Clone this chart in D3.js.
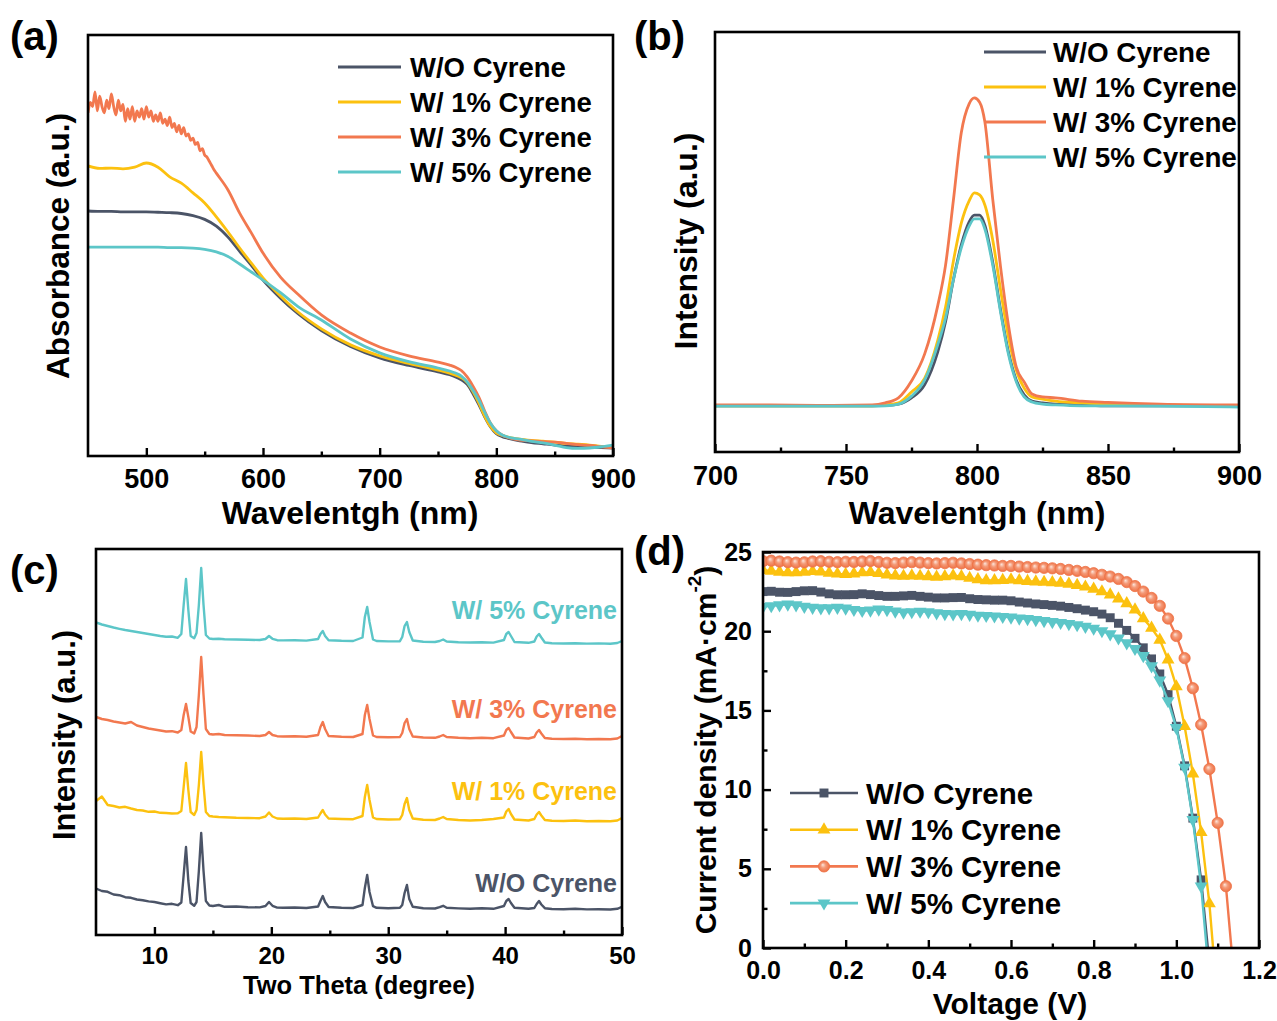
<!DOCTYPE html>
<html><head><meta charset="utf-8">
<script src="https://cdn.jsdelivr.net/npm/d3@7"></script>
<style>
body{margin:0;background:#fff}
svg{display:block;background:#fff}
text{font-family:"Liberation Sans",Arial,Helvetica,sans-serif;font-weight:bold}
</style></head>
<body><svg id="fig" width="1277" height="1021"></svg>
<script>
// ---------------- DATA ----------------
const seriesNames = ["W/O Cyrene", "W/ 1% Cyrene", "W/ 3% Cyrene", "W/ 5% Cyrene"];

// (a) UV-vis absorbance (a.u.)
const absWl = [450,460,470,480,490,500,510,520,530,540,550,560,570,580,590,600,615,630,650,675,700,725,750,760,765,770,775,780,785,790,795,800,805,810,820,830,840,850,860,870,880,890,900];
const absWO = [58.2,58.1,58.1,58.0,58.0,58.0,57.9,57.8,57.6,57.1,56.2,54.6,52.0,48.6,45.3,41.8,37.5,33.8,29.8,26.0,23.3,21.5,20.0,19.3,18.8,18.1,17.0,14.8,12.2,9.3,6.9,5.3,4.6,4.2,3.6,3.2,2.9,2.6,2.4,2.2,2.1,2.0,1.9];
const abs1 = [68.9,68.3,68.4,68.2,68.6,69.6,68.6,66.3,64.8,62.5,60.1,56.8,53.2,49.4,45.8,42.3,38.0,34.2,30.2,26.4,23.8,22.0,20.4,19.7,19.2,18.6,17.5,15.3,12.6,9.5,7.0,5.5,4.9,4.5,4.0,3.7,3.5,3.3,3.0,2.8,2.6,2.3,2.1];
const abs5 = [49.6,49.6,49.6,49.6,49.6,49.6,49.6,49.5,49.5,49.4,49.1,48.5,47.4,45.6,43.7,41.8,38.8,35.5,32.3,27.8,24.5,22.4,20.9,20.2,19.7,19.0,17.6,15.6,13.3,10.4,7.8,6.0,5.0,4.5,4.0,3.5,3.1,2.6,2.0,1.8,1.9,2.2,2.6];
const absWl3 = [450,452,454,456,458,460,462,464,466,468,470,472,474,476,478,480,482,484,486,488,490,492,494,496,498,500,502,504,506,508,510,512,514,516,518,520,522,524,526,528,530,532,534,536,538,540,542,544,546,548,550,552,554,556,558,560,570,580,590,600,615,630,650,675,700,725,750,760,765,770,775,780,785,790,795,800,805,810,820,830,840,850,860,870,880,890,900];
const abs3 = [81.5,84.0,83.0,86.5,82.0,85.5,83.0,81.5,84.5,82.5,86.0,83.0,81.0,84.5,82.0,83.5,79.5,82.5,80.0,83.0,79.5,82.0,80.5,82.5,80.0,83.0,80.5,82.0,79.5,81.0,79.5,81.5,79.0,80.0,78.5,80.5,78.0,79.0,77.0,78.5,76.5,78.0,76.0,76.5,75.0,75.5,74.0,74.5,72.5,73.0,71.5,71.0,70.0,69.0,68.0,67.2,63.2,57.7,53.0,48.2,42.5,38.4,33.5,29.2,25.9,23.8,22.3,21.6,21.1,20.3,18.8,16.6,14.0,10.7,7.8,6.0,5.0,4.4,3.8,3.6,3.4,3.3,3.0,2.7,2.5,2.2,1.9];

// (b) PL intensity (a.u.)
const plWl = [700,720,740,760,765,770,775,780,785,788,791,794,797,799,801,803,806,809,812,815,818,821,825,830,840,850,870,900];
const plWO = [11.0,11.0,11.0,11.0,11.1,11.4,12.9,16.0,23.8,31.0,41.0,49.3,54.8,56.4,56.4,54.0,45.2,33.8,23.8,17.1,13.6,12.1,11.7,11.4,11.2,11.0,11.0,11.0];
const pl1 = [11.0,11.0,11.0,11.0,11.2,11.7,14.3,17.5,26.5,34.5,45.5,54.5,59.8,61.7,61.2,58.8,50.5,38.6,27.4,19.5,15.2,13.1,12.6,12.1,11.7,11.4,11.2,11.0];
const pl3 = [11.2,11.2,11.1,11.2,11.7,12.9,16.9,23.3,34.8,44.5,60.0,76.0,82.9,84.3,83.3,78.6,60.2,44.0,30.2,20.2,16.7,13.8,13.1,12.9,12.1,11.8,11.4,11.2];
const pl5 = [10.9,10.9,10.9,10.9,11.0,11.4,13.3,17.1,25.5,31.9,41.0,48.6,53.8,55.5,55.5,53.1,44.5,33.3,23.3,16.7,13.1,11.9,11.4,11.2,11.0,11.0,10.9,10.7];

// (c) XRD (stacked intensity, a.u.)
const xrdTheta = [5,5.5,6,6.5,7,7.5,8,8.5,9,9.5,10,10.5,11,11.5,12,12.3,12.5,12.7,12.9,13.1,13.4,13.6,13.8,14.0,14.2,14.4,14.7,15,15.5,16,17,18,19,19.5,19.8,20.1,20.5,21,22,23,24.0,24.2,24.4,24.6,24.9,26,27,27.8,28.0,28.2,28.4,28.7,29,30,31,31.2,31.4,31.6,31.8,32.1,33,34,34.4,34.7,35.0,36,37,38,39,39.9,40.1,40.3,40.5,40.8,42,42.5,42.7,42.9,43.1,43.4,44,45,46,47,48,49,49.6,50];
const xrdWO = [465,440,432,405,398,378,372,355,348,336,330,318,306,312,298,325,600,880,540,320,292,330,640,1020,640,340,295,290,300,282,285,278,276,290,330,292,274,272,275,270,285,340,390,330,280,272,270,300,470,600,430,288,272,268,272,300,420,500,360,282,268,265,278,292,272,266,262,267,262,290,340,360,320,272,262,270,310,340,305,268,260,258,262,256,258,255,262,282];
const xrd1 = [1340,1385,1300,1290,1275,1282,1265,1250,1245,1232,1235,1222,1220,1215,1218,1240,1480,1720,1450,1230,1200,1250,1500,1830,1500,1230,1190,1185,1180,1178,1172,1170,1168,1185,1225,1185,1165,1163,1165,1160,1175,1215,1250,1205,1165,1160,1158,1190,1380,1500,1350,1175,1160,1155,1158,1200,1310,1370,1250,1165,1152,1150,1165,1180,1160,1150,1145,1150,1160,1175,1235,1260,1210,1155,1145,1160,1205,1230,1195,1150,1142,1140,1145,1138,1140,1137,1145,1170];
const xrd3 = [2180,2160,2150,2135,2125,2115,2130,2095,2080,2065,2055,2045,2035,2038,2025,2050,2200,2310,2180,2035,2015,2080,2400,2780,2400,2060,2010,2005,2010,2000,1998,1995,1990,2000,2030,2000,1988,1985,1988,1982,2000,2080,2130,2060,1990,1982,1980,2010,2200,2300,2160,1995,1980,1978,1980,2020,2120,2160,2060,1985,1975,1972,1985,2000,1980,1972,1968,1972,1968,1995,2050,2070,2030,1975,1965,1980,2025,2050,2015,1970,1962,1960,1962,1958,1960,1957,1965,1990];
const xrd5 = [3125,3105,3090,3075,3062,3050,3040,3030,3020,3010,3000,2990,2982,2985,2972,3010,3300,3560,3250,2990,2968,3020,3300,3670,3300,3000,2965,2960,2962,2958,2955,2952,2950,2960,2990,2962,2948,2946,2948,2944,2960,3010,3040,2990,2948,2942,2940,2975,3180,3280,3130,2955,2940,2936,2938,2980,3090,3130,3030,2945,2932,2930,2940,2955,2935,2928,2925,2928,2924,2950,3010,3030,2990,2930,2922,2935,2985,3010,2975,2925,2918,2915,2918,2914,2916,2913,2920,2940];

// (d) J-V curves
const voltage = [0,0.02,0.04,0.06,0.08,0.1,0.12,0.14,0.16,0.18,0.2,0.22,0.24,0.26,0.28,0.3,0.32,0.34,0.36,0.38,0.4,0.42,0.44,0.46,0.48,0.5,0.52,0.54,0.56,0.58,0.6,0.62,0.64,0.66,0.68,0.7,0.72,0.74,0.76,0.78,0.8,0.82,0.84,0.86,0.88,0.9,0.92,0.94,0.96,0.98,1.0,1.02,1.04,1.06,1.08,1.1,1.12,1.14];
const jWO = [22.50,22.52,22.46,22.45,22.50,22.55,22.56,22.47,22.36,22.30,22.30,22.31,22.36,22.31,22.25,22.20,22.20,22.23,22.26,22.20,22.15,22.10,22.10,22.12,22.13,22.05,22.00,21.98,21.96,21.96,21.92,21.84,21.78,21.72,21.68,21.63,21.58,21.50,21.42,21.33,21.23,21.08,20.85,20.50,20.05,19.55,18.95,18.25,17.30,16.00,14.00,11.50,8.20,4.30,-1.00];
const j1 = [23.85,23.80,23.74,23.70,23.70,23.73,23.78,23.75,23.68,23.62,23.60,23.63,23.70,23.72,23.65,23.56,23.50,23.48,23.50,23.48,23.45,23.42,23.45,23.50,23.45,23.35,23.26,23.20,23.20,23.22,23.25,23.20,23.15,23.12,23.10,23.08,23.04,22.98,22.90,22.80,22.66,22.50,22.30,22.05,21.75,21.35,20.80,20.20,19.45,18.20,16.50,14.00,11.00,7.30,2.80,-3.50];
const j3 = [24.42,24.45,24.40,24.36,24.33,24.35,24.40,24.42,24.38,24.36,24.38,24.37,24.40,24.43,24.37,24.32,24.30,24.33,24.36,24.33,24.30,24.28,24.30,24.32,24.28,24.24,24.20,24.17,24.15,24.12,24.12,24.08,24.05,24.02,24.00,23.97,23.93,23.87,23.81,23.74,23.66,23.56,23.45,23.30,23.10,22.85,22.50,22.10,21.60,20.80,19.70,18.30,16.40,14.10,11.30,7.90,3.90,-2.00];
const j5 = [21.55,21.60,21.65,21.70,21.65,21.56,21.50,21.46,21.46,21.50,21.45,21.36,21.30,21.32,21.38,21.35,21.26,21.20,21.22,21.25,21.22,21.15,21.10,21.08,21.10,21.05,21.00,20.98,20.95,20.92,20.88,20.82,20.78,20.72,20.66,20.60,20.54,20.47,20.40,20.30,20.18,20.02,19.82,19.56,19.25,18.90,18.45,17.80,16.90,15.60,13.90,11.40,8.10,3.90,-2.00];

// tick values
const absTicks = [500,600,700,800,900], absMinor = [550,650,750,850];
const plTicks = [700,750,800,850,900], plMinor = [725,775,825,875];
const xrdTicks = [10,20,30,40,50], xrdMinor = [15,25,35,45];
const vTicks = [0,0.2,0.4,0.6,0.8,1.0,1.2], vMinor = [0.1,0.3,0.5,0.7,0.9,1.1];
const jTicks = [0,5,10,15,20,25], jMinor = [2.5,7.5,12.5,17.5,22.5];

// ---------------- STYLE ----------------
const colors = ["#4b5467", "#fcc10f", "#f2784f", "#5cc6c8"];
const svg = d3.select("#fig");
const defs = svg.append("defs");
const grad = defs.append("radialGradient").attr("id","ball").attr("cx","0.5").attr("cy","0.5").attr("r","0.5").attr("fx","0.38").attr("fy","0.35");
grad.append("stop").attr("offset","0%").attr("stop-color","#fde6dc");
grad.append("stop").attr("offset","45%").attr("stop-color","#f49a78");
grad.append("stop").attr("offset","100%").attr("stop-color","#ee7246");

let clipId = 0;
function makePanel(o) {
  const g = svg.append("g");
  const [xl, xr] = o.x.range(), [yb, yt] = o.y.range();
  const cid = "clip" + (clipId++);
  defs.append("clipPath").attr("id", cid).append("rect")
    .attr("x", xl).attr("y", yt).attr("width", xr - xl).attr("height", yb - yt);
  const style = sel => {
    sel.select(".domain").remove();
    sel.selectAll("line").attr("stroke", "#000").attr("stroke-width", 2.4);
    sel.selectAll("text").attr("font-family", '"Liberation Sans", Arial, sans-serif')
      .attr("font-weight", "bold").attr("font-size", o.tickFont).attr("fill", "#000");
  };
  const gx = g.append("g").attr("transform", `translate(0,${yb})`)
    .call(d3.axisBottom(o.x).tickValues(o.xTicks).tickSize(-8).tickPadding(o.xPad).tickFormat(o.xFmt));
  style(gx);
  const gxm = g.append("g").attr("transform", `translate(0,${yb})`)
    .call(d3.axisBottom(o.x).tickValues(o.xMinor).tickSize(-4.5).tickFormat(""));
  style(gxm);
  if (o.yTicks) {
    const gy = g.append("g").attr("transform", `translate(${xl},0)`)
      .call(d3.axisLeft(o.y).tickValues(o.yTicks).tickSize(-8).tickPadding(o.yPad).tickFormat(o.yFmt));
    style(gy);
    const gym = g.append("g").attr("transform", `translate(${xl},0)`)
      .call(d3.axisLeft(o.y).tickValues(o.yMinor).tickSize(-4.5).tickFormat(""));
    style(gym);
  }
  const plot = g.append("g").attr("clip-path", `url(#${cid})`);
  g.append("rect").attr("x", xl).attr("y", yt).attr("width", xr - xl).attr("height", yb - yt)
    .attr("fill", "none").attr("stroke", "#000").attr("stroke-width", 2.6);
  return {g, plot};
}

function yTitle(g, x, y, size, text) {
  return g.append("text").attr("transform", `translate(${x},${y}) rotate(-90)`)
    .attr("text-anchor", "middle").attr("dy", "0.35em").attr("font-size", size).text(text);
}
function label(x, y, t) {
  svg.append("text").attr("x", x).attr("y", y).attr("font-size", 40).text(t);
}

// ---------------- (a) ----------------
{
  const x = d3.scaleLinear().domain([450, 900]).range([88, 613]);
  const y = d3.scaleLinear().domain([0, 100]).range([456, 35]);
  const p = makePanel({x, y, xTicks: absTicks, xMinor: absMinor, xPad: 12.5, xFmt: d3.format("d"), tickFont: 27});
  const sets = [[absWl, absWO], [absWl, abs1], [absWl3, abs3], [absWl, abs5]];
  const line = d3.line().x(d => x(d[0])).y(d => y(d[1])).curve(d3.curveMonotoneX);
  sets.forEach(([wl, v], i) => {
    p.plot.append("path").datum(wl.map((w, k) => [w, v[k]])).attr("d", line)
      .attr("fill", "none").attr("stroke", colors[i]).attr("stroke-width", 2.8).attr("stroke-linejoin", "round");
  });
  seriesNames.forEach((n, i) => {
    const cy = 67 + i * 35;
    p.g.append("line").attr("x1", 338).attr("x2", 401).attr("y1", cy).attr("y2", cy)
      .attr("stroke", colors[i]).attr("stroke-width", 2.8);
    p.g.append("text").attr("x", 410).attr("y", cy + 10).attr("font-size", 27.5).text(n);
  });
  p.g.append("text").attr("x", 350).attr("y", 524).attr("text-anchor", "middle").attr("font-size", 32).text("Wavelentgh (nm)");
  yTitle(p.g, 58, 246, 31.5, "Absorbance (a.u.)");
  label(10, 50, "(a)");
}

// ---------------- (b) ----------------
{
  const x = d3.scaleLinear().domain([700, 900]).range([715, 1239]);
  const y = d3.scaleLinear().domain([0, 100]).range([452, 32]);
  const p = makePanel({x, y, xTicks: plTicks, xMinor: plMinor, xPad: 13.5, xFmt: d3.format("d"), tickFont: 27});
  const sets = [plWO, pl1, pl3, pl5];
  const line = d3.line().x(d => x(d[0])).y(d => y(d[1])).curve(d3.curveMonotoneX);
  sets.forEach((v, i) => {
    p.plot.append("path").datum(plWl.map((w, k) => [w, v[k]])).attr("d", line)
      .attr("fill", "none").attr("stroke", colors[i]).attr("stroke-width", 2.8).attr("stroke-linejoin", "round");
  });
  seriesNames.forEach((n, i) => {
    const cy = 52 + i * 35;
    p.g.append("line").attr("x1", 984).attr("x2", 1046).attr("y1", cy).attr("y2", cy)
      .attr("stroke", colors[i]).attr("stroke-width", 2.8);
    p.g.append("text").attr("x", 1053).attr("y", cy + 10).attr("font-size", 27.8).text(n);
  });
  p.g.append("text").attr("x", 977).attr("y", 524).attr("text-anchor", "middle").attr("font-size", 32).text("Wavelentgh (nm)");
  yTitle(p.g, 686, 241, 32, "Intensity (a.u.)");
  label(634, 50, "(b)");
}

// ---------------- (c) ----------------
{
  const x = d3.scaleLinear().domain([5, 50]).range([96, 622]);
  const y = d3.scaleLinear().domain([0, 3860]).range([935, 549]);
  const p = makePanel({x, y, xTicks: xrdTicks, xMinor: xrdMinor, xPad: 11.5, xFmt: d3.format("d"), tickFont: 24});
  const sets = [xrdWO, xrd1, xrd3, xrd5];
  const line = d3.line().x(d => x(d[0])).y(d => y(d[1]));
  sets.forEach((v, i) => {
    p.plot.append("path").datum(xrdTheta.map((t, k) => [t, v[k]])).attr("d", line)
      .attr("fill", "none").attr("stroke", colors[i]).attr("stroke-width", 2.4).attr("stroke-linejoin", "round");
  });
  const labY = [892, 800, 718, 619];
  seriesNames.forEach((n, i) => {
    p.g.append("text").attr("x", 617).attr("y", labY[i]).attr("text-anchor", "end")
      .attr("font-size", 25).attr("fill", colors[i]).text(n);
  });
  p.g.append("text").attr("x", 359).attr("y", 994).attr("text-anchor", "middle").attr("font-size", 25.5).text("Two Theta (degree)");
  yTitle(p.g, 64, 735, 31, "Intensity (a.u.)");
  label(10, 584, "(c)");
}

// ---------------- (d) ----------------
{
  const x = d3.scaleLinear().domain([0, 1.2]).range([763, 1259]);
  const y = d3.scaleLinear().domain([0, 25]).range([948, 552]);
  const p = makePanel({x, y, xTicks: vTicks, xMinor: vMinor, xPad: 13, xFmt: d3.format(".1f"),
    yTicks: jTicks, yMinor: jMinor, yPad: 11, yFmt: d3.format("d"), tickFont: 25});
  const sets = [jWO, j1, j3, j5];
  const line = d3.line().x(d => x(d[0])).y(d => y(d[1]));
  const sym = [d3.symbol().type(d3.symbolSquare).size(80),
               d3.symbol().type(d3.symbolTriangle).size(72),
               d3.symbol().type(d3.symbolCircle).size(100),
               d3.symbol().type(d3.symbolTriangle).size(72)];
  const drawMarker = (sel, i) => {
    sel.append("path").attr("d", sym[i]())
      .attr("transform", i === 3 ? "rotate(180)" : null)
      .attr("fill", i === 2 ? "url(#ball)" : colors[i])
      .attr("stroke", i === 2 ? "#ef7448" : "none").attr("stroke-width", 0.8);
  };
  sets.forEach((v, i) => {
    const pts = v.map((j, k) => [voltage[k], j]);
    const sg = p.plot.append("g");
    sg.append("path").datum(pts).attr("d", line).attr("fill", "none")
      .attr("stroke", colors[i]).attr("stroke-width", 2.4);
    sg.selectAll("g.m").data(pts).join("g").attr("class", "m")
      .attr("transform", d => `translate(${x(d[0])},${y(d[1])})`)
      .each(function () { drawMarker(d3.select(this), i); });
  });
  seriesNames.forEach((n, i) => {
    const cy = 793 + i * 36.7;
    p.g.append("line").attr("x1", 790).attr("x2", 858).attr("y1", cy).attr("y2", cy)
      .attr("stroke", colors[i]).attr("stroke-width", 2.6);
    const mg = p.g.append("g").attr("transform", `translate(824,${cy})`);
    drawMarker(mg, i);
    p.g.append("text").attr("x", 866).attr("y", cy + 10.5).attr("font-size", 29.5).text(n);
  });
  p.g.append("text").attr("x", 1010).attr("y", 1014).attr("text-anchor", "middle").attr("font-size", 30).text("Voltage (V)");
  const yt = p.g.append("text").attr("transform", `translate(705,750) rotate(-90)`)
    .attr("text-anchor", "middle").attr("dy", "0.35em").attr("font-size", 30);
  yt.append("tspan").text("Current density (mA·cm");
  yt.append("tspan").attr("font-size", 19).attr("dy", "-0.75em").text("-2");
  yt.append("tspan").attr("font-size", 30).attr("dy", "0.48em").text(")");
  label(634, 565, "(d)");
}
</script></body></html>
